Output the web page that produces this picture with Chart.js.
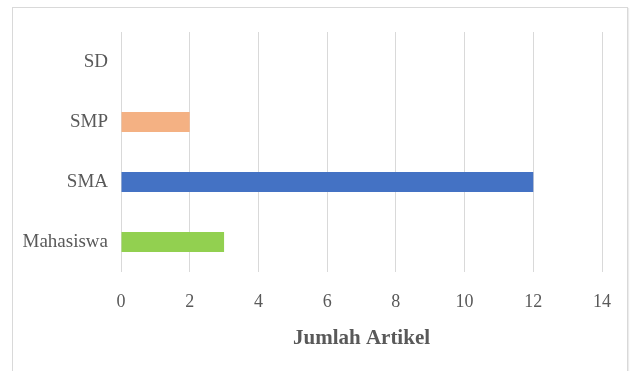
<!DOCTYPE html>
<html>
<head>
<meta charset="utf-8">
<script src="https://cdn.jsdelivr.net/npm/chart.js@4/dist/chart.umd.min.js"></script>
<style>
  html, body { margin: 0; padding: 0; background: #fff; overflow: hidden; }
  #frame {
    position: absolute; left: 12px; top: 7px;
    width: 614px; height: 400px;
    border: 1px solid #d9d9d9;
    box-shadow: 1px 1px 1px #ececec;
  }
  #chart { position: absolute; left: 0; top: 0; }
</style>
</head>
<body>
<div id="frame"></div>
<canvas id="chart" width="630" height="371"></canvas>
<script>
const levels   = ['SD', 'SMP', 'SMA', 'Mahasiswa'];
const articles = [0, 2, 12, 3];
const barColours = ['#5b9bd5', '#f4b183', '#4472c4', '#92d050'];
const xTicks = [0, 2, 4, 6, 8, 10, 12, 14];

const TEXT = '#595959';
const GRID = '#d9d9d9';
const SERIF = '"Liberation Serif", "Times New Roman", serif';

new Chart(document.getElementById('chart'), {
  type: 'bar',
  data: {
    labels: levels,
    datasets: [{
      data: articles,
      backgroundColor: barColours,
      borderWidth: 0,
      categoryPercentage: 1,
      barPercentage: 0.33,
    }],
  },
  options: {
    indexAxis: 'y',
    responsive: false,
    animation: false,
    devicePixelRatio: 1,
    layout: { padding: { top: 32, right: 28, left: 0, bottom: 0 } },
    plugins: { legend: { display: false }, tooltip: { enabled: false } },
    scales: {
      x: {
        min: xTicks[0],
        max: xTicks[xTicks.length - 1],
        afterBuildTicks: (scale) => { scale.ticks = xTicks.map((v) => ({ value: v })); },
        afterFit: (scale) => { scale.height = 99; },
        grid: { color: GRID, lineWidth: 1, drawTicks: false },
        border: { display: false },
        ticks: { color: TEXT, padding: 19, font: { family: SERIF, size: 18 } },
        title: {
          display: true,
          text: 'Jumlah Artikel',
          color: TEXT,
          font: { family: SERIF, size: 21, weight: 'bold' },
          padding: { top: 0, bottom: 20 },
        },
      },
      y: {
        afterFit: (scale) => { scale.width = 121; },
        grid: { display: false, drawTicks: false },
        border: { display: false },
        ticks: { color: TEXT, padding: 13, font: { family: SERIF, size: 19 } },
      },
    },
  },
});
</script>
</body>
</html>
